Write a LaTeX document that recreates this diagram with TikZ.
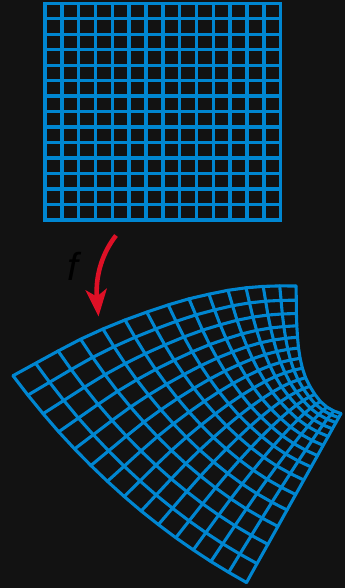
\documentclass[tikz,border=0pt]{standalone}
\usepackage{fontspec}
\setmainfont{Liberation Sans}
\usetikzlibrary{arrows.meta}
\definecolor{bgdark}{RGB}{18,18,18}
\definecolor{gridblue}{RGB}{0,134,209}
\definecolor{arrowred}{RGB}{222,16,38}
\begin{document}
\begin{tikzpicture}[x=1pt,y=-1pt,
  flatgrid/.style={draw=gridblue,line width=3.4pt,line cap=rect},
  bentgrid/.style={draw=gridblue,line width=3.1pt,line cap=round,line join=round},
  maparrow/.style={draw=arrowred,line width=4.6pt,-{Stealth[length=27pt,width=21pt,inset=7pt]}}]
\fill[bgdark] (0,0) rectangle (345,588);
\useasboundingbox (0,0) rectangle (345,588);
% ---------- top rectangular grid ----------
\foreach \k in {0,...,14}{
  \pgfmathsetmacro\gx{45+\k*235.7/14}
  \pgfmathsetmacro\gy{3.3+\k*216.7/14}
  \draw[flatgrid] (\gx,3.3) -- (\gx,220);
  \draw[flatgrid] (45,\gy) -- (280.7,\gy);
}
% ---------- boundary of the image grid ----------
\def\TX{{13.0,35.6,58.1,80.6,102.9,125.0,146.8,168.2,189.0,208.9,228.0,246.0,263.2,279.7,296.0}}
\def\TY{{375.7,363.3,351.0,339.2,329.0,320.0,312.1,304.9,298.8,294.2,290.3,287.8,286.4,285.9,286.0}}
\def\BX{{246.5,257.0,267.9,277.9,287.0,295.7,303.8,311.1,317.5,323.2,328.2,332.4,335.9,338.7,341.0}}
\def\BY{{582.5,563.6,544.3,526.4,510.0,494.5,480.0,467.0,455.6,445.3,436.4,428.8,422.6,417.6,413.5}}
\def\LX{{13.0,27.9,43.1,58.7,74.6,90.9,107.4,124.2,141.2,158.4,175.8,193.3,210.9,228.7,246.5}}
\def\LY{{375.7,395.1,413.7,431.8,448.9,465.5,481.3,496.5,511.0,524.6,537.7,549.9,561.5,572.3,582.5}}
\def\RX{{296.0,296.3,296.4,296.8,297.5,298.5,300.1,302.4,305.6,309.8,314.8,320.4,326.9,333.8,341.0}}
\def\RY{{286.0,300.2,313.5,325.8,337.2,348.0,358.3,368.2,377.7,386.3,394.3,401.5,407.1,411.0,413.5}}
% corners A (top-left), B (top-right), C (right), D (bottom)
\def\AX{13.0}\def\AY{375.7}
\def\BBX{296.0}\def\BBY{286.0}
\def\CX{341.0}\def\CY{413.5}
\def\DX{246.5}\def\DY{582.5}
% ---------- interior by transfinite (Coons) interpolation ----------
\foreach \i in {0,...,14}{
  \foreach \j in {0,...,14}{
    \pgfmathsetmacro\u{\i/14}
    \pgfmathsetmacro\v{\j/14}
    \pgfmathsetmacro\px{(1-\v)*\TX[\i]+\v*\BX[\i]+(1-\u)*\LX[\j]+\u*\RX[\j]-((1-\u)*(1-\v)*\AX+\u*(1-\v)*\BBX+(1-\u)*\v*\DX+\u*\v*\CX)}
    \pgfmathsetmacro\py{(1-\v)*\TY[\i]+\v*\BY[\i]+(1-\u)*\LY[\j]+\u*\RY[\j]-((1-\u)*(1-\v)*\AY+\u*(1-\v)*\BBY+(1-\u)*\v*\DY+\u*\v*\CY)}
    \coordinate (P-\i-\j) at (\px,\py);
  }
}
\foreach \j in {0,...,14}{
  \draw[bentgrid] (P-0-\j) \foreach \i in {1,...,14}{ -- (P-\i-\j) };
}
\foreach \i in {0,...,14}{
  \draw[bentgrid] (P-\i-0) \foreach \j in {1,...,14}{ -- (P-\i-\j) };
}
% ---------- arrow and label ----------
\coordinate (arrowtail) at (116,235.5);
\coordinate (arrowtip) at (98.5,316.5);
\draw[maparrow] (arrowtail) .. controls (103,252) and (95,275) .. (arrowtip);
\node[text=black,font=\itshape\fontsize{39}{39}\selectfont,inner sep=0pt] (flabel) at (73,266) {f};
\end{tikzpicture}
\end{document}
